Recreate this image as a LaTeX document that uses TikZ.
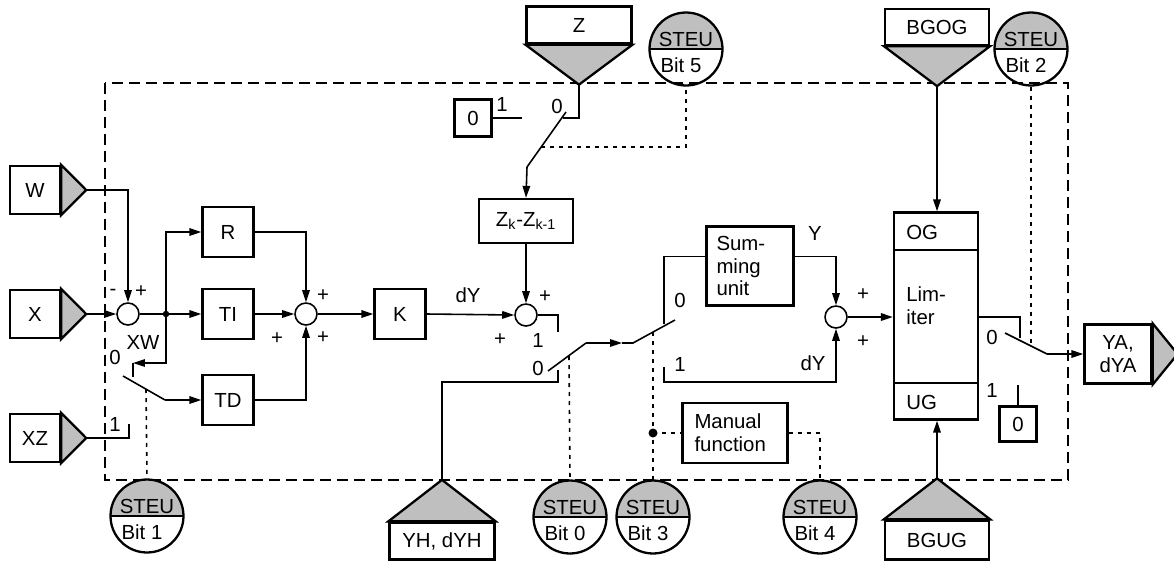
\documentclass[tikz,border=0pt]{standalone}
\usepackage{fontspec}
\setmainfont{Liberation Sans}
\usepackage{tikz}
\usetikzlibrary{arrows.meta, positioning}
\definecolor{InGray}{RGB}{191,191,191}

\begin{document}
\begin{tikzpicture}[
    x=0.02cm, y=-0.02cm,
    font=\fontsize{11.6}{13}\selectfont,
    blk/.style={rectangle, draw, line width=1.3pt, inner sep=0pt, align=center},
    iobox/.style={blk, minimum width=1cm, minimum height=0.96cm},
    fnbox/.style={blk, minimum width=1.02cm, minimum height=1cm},
    sumc/.style={circle, draw, line width=0.9pt, minimum size=0.44cm, inner sep=0pt},
    steu/.style={circle, draw, line width=1.3pt, minimum size=1.46cm, inner sep=0pt,
        path picture={\fill[InGray] (path picture bounding box.west) rectangle (path picture bounding box.north east);
                      \draw[line width=1.3pt] (path picture bounding box.west) -- (path picture bounding box.east);}},
    tri/.style={draw, line width=1.3pt, fill=InGray, line join=miter},
    arrow/.style={-{Triangle[length=0.24cm, width=0.15cm]}, line width=0.9pt},
    wire/.style={line width=0.9pt},
    ctrl/.style={line width=0.9pt, dash pattern=on 0.08cm off 0.1cm},
    frame/.style={line width=0.9pt, dash pattern=on 0.22cm off 0.12cm},
    lbl/.style={inner sep=0pt}
]
\useasboundingbox (0,0) rectangle (1174,562);

% Frame
\draw[frame] (105,83) rectangle (1068,480);

% Inputs
\node[iobox] (W) at (35,190) {W};
\node[iobox] (X) at (35,314) {X};
\node[iobox] (XZ) at (35,438) {XZ};
\foreach \n in {W,X,XZ}{
  \coordinate (\n-tip) at ([xshift=0.5cm]\n.east);
  \draw[tri] (\n.north east) -- (\n-tip) -- (\n.south east) -- cycle;
}

\node[blk, minimum width=2.1cm, minimum height=0.74cm] (Z) at (579,25) {Z};
\coordinate (Z-tip) at ([yshift=-0.8cm]Z.south);
\draw[tri] (Z.south west) -- (Z-tip) -- (Z.south east) -- cycle;

\node[blk, minimum width=2.08cm, minimum height=0.72cm] (BGOG) at (937,27) {BGOG};
\coordinate (BGOG-tip) at ([yshift=-0.8cm]BGOG.south);
\draw[tri] (BGOG.south west) -- (BGOG-tip) -- (BGOG.south east) -- cycle;

\node[blk, minimum width=2.1cm, minimum height=0.74cm] (YH) at (442,541) {YH, dYH};
\coordinate (YH-tip) at ([yshift=0.83cm]YH.north);
\draw[tri] (YH.north west) -- (YH-tip) -- (YH.north east) -- cycle;

\node[blk, minimum width=2.08cm, minimum height=0.78cm] (BGUG) at (937,540) {BGUG};
\coordinate (BGUG-tip) at ([yshift=0.82cm]BGUG.north);
\draw[tri] (BGUG.north west) -- (BGUG-tip) -- (BGUG.north east) -- cycle;

% Output
\node[blk, minimum width=1.34cm, minimum height=1.18cm] (YA) at (1118,354) {YA,\\dYA};
\coordinate (YA-tip) at ([xshift=0.5cm]YA.east);
\draw[tri] (YA.north east) -- (YA-tip) -- (YA.south east) -- cycle;

% Control bits
\node[steu] (b1) at (147,516) {};
\node[steu] (b0) at (570,517) {};
\node[steu] (b3) at (653,517) {};
\node[steu] (b4) at (820,517) {};
\node[steu] (b5) at (686,49) {};
\node[steu] (b2) at (1031,49) {};
\foreach \n/\b in {b1/1, b0/0, b3/3, b4/4, b5/5, b2/2}{
  \node[lbl, anchor=base] (\n-top) at ([yshift=0.06cm]\n.center) {STEU};
  \node[lbl, anchor=base] (\n-bit) at ([xshift=-0.1cm, yshift=-0.46cm]\n.center) {Bit \b};
}

% Controller blocks
\node[sumc] (s1) at (128,314) {};
\node[fnbox] (R) at (228,232) {R};
\node[fnbox] (TI) at (228,314) {TI};
\node[fnbox] (TD) at (228,400) {TD};
\node[sumc] (s2) at (306,314) {};
\node[fnbox] (K) at (400,314) {K};
\node[sumc] (s3) at (526,315) {};
\node[blk, minimum width=1.88cm, minimum height=0.88cm] (zk) at (526,221) {Z\textsubscript{k}-Z\textsubscript{k-1}};
\node[blk, minimum size=0.74cm] (zero1) at (473,118) {0};
\node[blk, minimum width=1.74cm, minimum height=1.58cm, text width=1.34cm, align=left] (sum) at (750,266) {Sum-\\ming\\unit};
\node[sumc] (s4) at (836,317) {};
\node[blk, minimum width=2.1cm, minimum height=1.2cm, text width=1.62cm, align=left] (man) at (735,433) {Manual\\function};
\node[blk, minimum width=1.68cm, minimum height=4.14cm] (lim) at (936,316) {};
\draw[line width=1.3pt] (lim.west |- 0,250) -- (lim.east |- 0,250);
\draw[line width=1.3pt] (lim.west |- 0,383) -- (lim.east |- 0,383);
\node[lbl, anchor=west] (og) at (906,232) {OG};
\node[lbl, anchor=west, align=left] (limtxt) at (906,306) {Lim-\\iter};
\node[lbl, anchor=west] (ug) at (906,402) {UG};
\node[blk, minimum width=0.74cm, minimum height=0.7cm] (zero2) at (1018,424) {0};

% Signal paths
\coordinate (j1) at (166,314);
\draw[arrow] (W-tip) -| (s1.north);
\draw[arrow] (X-tip) -- (s1.west);
\draw[wire] (s1.east) -- (j1);
\fill (j1) circle (0.065cm);
\draw[arrow] (j1) -- (TI.west);
\draw[arrow] (j1) |- (R.west);
\coordinate (td0) at (133,363);
\draw[arrow] (j1) |- (td0);
\draw[wire] (td0) -- ++(0,14);
\coordinate (tdp) at (165,400);
\coordinate (tdb) at (123,376);
\draw[wire] (tdp) -- (tdb);
\draw[arrow] (tdp) -- (TD.west);
\coordinate (td1) at (129,438);
\draw[wire] (XZ-tip) -- (td1) -- ++(0,-14);

\draw[arrow] (R.east) -| (s2.north);
\draw[arrow] (TD.east) -| (s2.south);
\draw[arrow] (TI.east) -- (s2.west);
\draw[arrow] (s2.east) -- (K.west);
\draw[arrow] (K.east) -- (s3.west);
\draw[arrow] (zk.south) -- (s3.north);
\coordinate (s3c) at (558,315);
\draw[wire] (s3.east) -- (s3c) -- ++(0,17);

% Z switch
\coordinate (zc0) at (579,118);
\coordinate (zc0e) at (563,118);
\coordinate (zc1) at (522,118);
\coordinate (zp) at (527,167);
\coordinate (zb) at (566,112);
\draw[wire] (Z-tip) -- (zc0) -- (zc0e);
\draw[wire] (zero1.east) -- (zc1);
\draw[wire] (zp) -- (zb);
\draw[arrow] (zp) -- (zk.north);

% Manual switches
\coordinate (p1) at (586,343);
\coordinate (p1b) at (548,371);
\coordinate (p1c) at (558,382);
\coordinate (p2) at (633,343);
\coordinate (p2b) at (675,320);
\coordinate (p2c) at (664,324);
\coordinate (p2d) at (664,367);
\coordinate (p2e) at (664,382);
\coordinate (pmid) at (622,343);
\draw[wire] (YH-tip) |- (p1c) -- ++(0,-12);
\draw[wire] (p1) -- (p1b);
\draw[arrow] (p1) -- (pmid);
\draw[wire] (pmid) -- (p2) -- (p2b);
\draw[wire] (p2c) |- ([yshift=0.19cm]sum.west);
\draw[arrow] ([yshift=0.19cm]sum.east) -| (s4.north);
\draw[arrow] (p2d) -- (p2e) -| (s4.south);
\draw[arrow] (s4.east) -- (lim.west |- s4);

% Limits and output switch
\draw[arrow] (BGOG-tip) -- (lim.north -| BGOG-tip);
\draw[arrow] (BGUG-tip) -- (lim.south -| BGUG-tip);
\coordinate (oc0) at (1020,317);
\coordinate (op) at (1047,354);
\coordinate (ob) at (1005,333);
\draw[wire] (lim.east |- oc0) -- (oc0) -- ++(0,21);
\draw[wire] (op) -- (ob);
\draw[arrow] (op) -- (YA.west);
\draw[wire] (zero2.north) -- ++(0,-20);

% Control lines
\draw[ctrl] (146,389) -- (b1.north);
\draw[ctrl] (541,147) -| (b5.south);
\draw[ctrl] (569,356) -- (b0.north);
\coordinate (mdot) at (653,433);
\draw[ctrl] (653,332) -- (b3.north);
\fill (mdot) circle (0.09cm);
\draw[ctrl] (mdot) -- (man.west);
\draw[ctrl] (man.east) -| (b4.north);
\draw[ctrl] (b2.south) -- (1031,343);

% Labels
\node[lbl] (l1) at (113,292) {-};
\node[lbl] (l2) at (141,292) {+};
\node[lbl] (l3) at (143,342) {XW};
\node[lbl] (l4) at (115,357) {0};
\node[lbl] (l5) at (115,424) {1};
\node[lbl] (l6) at (323,296) {+};
\node[lbl] (l7) at (323,338) {+};
\node[lbl] (l8) at (277,339) {+};
\node[lbl] (l9) at (468,295) {dY};
\node[lbl] (l10) at (545,297) {+};
\node[lbl] (l11) at (500,340) {+};
\node[lbl] (l12) at (538,340) {1};
\node[lbl] (l13) at (502,104) {1};
\node[lbl] (l14) at (557,106) {0};
\node[lbl] (l15) at (538,368) {0};
\node[lbl] (l16) at (680,300) {0};
\node[lbl] (l17) at (680,364) {1};
\node[lbl] (l18) at (813,363) {dY};
\node[lbl] (l19) at (815,233) {Y};
\node[lbl] (l20) at (863,295) {+};
\node[lbl] (l21) at (863,342) {+};
\node[lbl] (l22) at (992,337) {0};
\node[lbl] (l23) at (992,390) {1};
\end{tikzpicture}
\end{document}
